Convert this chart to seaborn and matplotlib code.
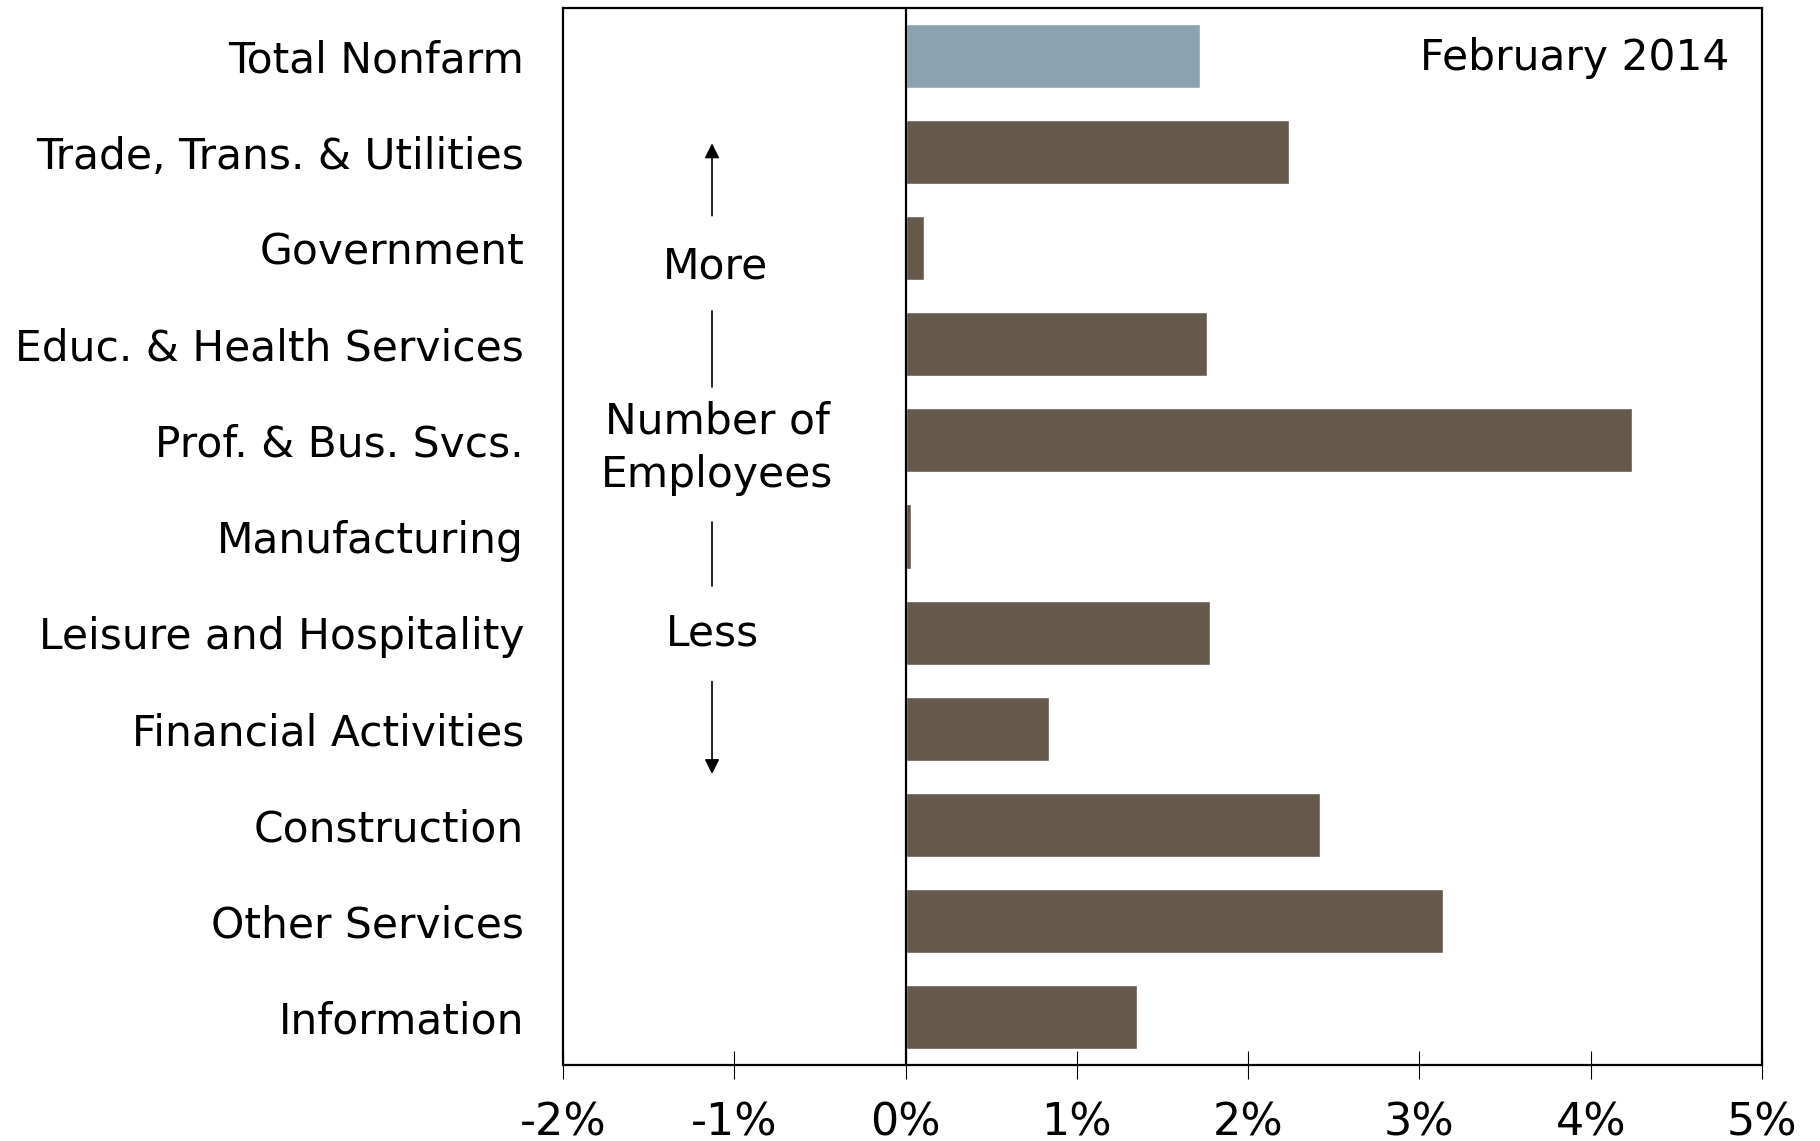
import matplotlib
matplotlib.use("Agg")
import matplotlib.pyplot as plt
from matplotlib import font_manager
import seaborn as sns
import pandas as pd

categories = ["Total Nonfarm", "Trade, Trans. & Utilities", "Government",
              "Educ. & Health Services", "Prof. & Bus. Svcs.", "Manufacturing",
              "Leisure and Hospitality", "Financial Activities", "Construction",
              "Other Services", "Information"]
values = [1.72, 2.24, 0.11, 1.76, 4.24, 0.03, 1.78, 0.84, 2.42, 3.14, 1.35]
groups = ["total"] + ["sector"] * 10
tick_values = [-2, -1, 0, 1, 2, 3, 4, 5]
tick_labels = ["-2%", "-1%", "0%", "1%", "2%", "3%", "4%", "5%"]
title_text = "February 2014"

df = pd.DataFrame({"category": categories, "value": values, "group": groups})

sns.set_theme(style="white")
plt.rcParams['font.family'] = ['DejaVu Sans']
plt.rcParams['text.color'] = 'black'
plt.rcParams['xtick.labelcolor'] = 'black'
plt.rcParams['ytick.labelcolor'] = 'black'

names = {f.name for f in font_manager.fontManager.ttflist}
narrow = "Liberation Sans Narrow" if "Liberation Sans Narrow" in names else "DejaVu Sans"

fig = plt.figure(figsize=(18.2, 11.41), dpi=100)
ax = fig.add_axes([563/1820, 1 - 1065/1141, (1762-563)/1820, (1065-8)/1141])

sns.barplot(data=df, x="value", y="category", hue="group", orient="h",
            palette={"total": "#8BA2B1", "sector": "#65594C"},
            dodge=False, width=0.667, legend=False, ax=ax, saturation=1)

ax.set_xlim(-2, 5)
ax.set_ylim(10.5, -0.5)
ax.axvline(0, color="black", lw=1.6, zorder=5)

for s in ax.spines.values():
    s.set_color("black")
    s.set_linewidth(1.6)

ax.set_xticks(tick_values)
ax.set_xticklabels(tick_labels, fontfamily=narrow, fontsize=32, color="black")
ax.tick_params(axis="x", direction="inout", length=20, width=0.8, color="black",
               pad=16, bottom=True)
ax.tick_params(axis="y", left=False, pad=22, labelsize=30.5)
for lab in ax.get_yticklabels():
    lab.set_color("black")
ax.set_xlabel("")
ax.set_ylabel("")

ax.text(0.973, 0.953, title_text, transform=ax.transAxes, ha="right", va="center",
        fontsize=30.5, color="black")

ax.annotate("", xy=(-1.13, 0.88), xytext=(-1.13, 1.69),
            arrowprops=dict(arrowstyle="-|>", color="black", lw=1.2,
                            mutation_scale=22))
ax.annotate("", xy=(-1.13, 7.5), xytext=(-1.13, 6.48),
            arrowprops=dict(arrowstyle="-|>", color="black", lw=1.2,
                            mutation_scale=22))
ax.plot([-1.13, -1.13], [2.65, 3.44], color="black", lw=1.2)
ax.plot([-1.13, -1.13], [4.85, 5.52], color="black", lw=1.2)
ax.text(-1.11, 2.19, "More", ha="center", va="center", fontsize=30.5)
ax.text(-1.1, 4.08, "Number of\nEmployees", ha="center", va="center",
        fontsize=30.5, linespacing=1.35)
ax.text(-1.13, 6.01, "Less", ha="center", va="center", fontsize=30.5)

fig.savefig("out.png", dpi=100)
